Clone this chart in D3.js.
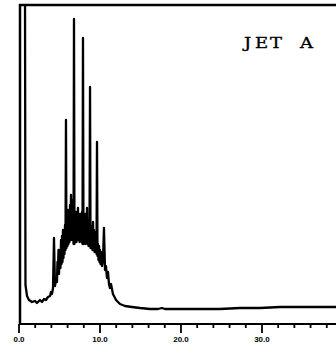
<!DOCTYPE html>
<html>
<head>
<meta charset="utf-8">
<script src="https://cdn.jsdelivr.net/npm/d3@7"></script>
<style>
  body { margin: 0; background: #fff; }
</style>
</head>
<body>
<div></div>
<script>
// retention time (min) and detector response
const times = [0.74, 0.80, 0.99, 1.23, 1.60, 1.98, 2.22, 2.59, 2.84, 3.09, 3.33, 3.58, 3.83, 3.95, 4.07, 4.20,
    4.32, 4.44, 4.57,
    4.69, 4.75, 4.81, 4.88, 4.94, 5.00, 5.06, 5.12, 5.19, 5.25, 5.31, 5.37, 5.43, 5.49, 5.56, 5.62,
    5.68, 5.74, 5.80, 5.86, 5.93, 5.99, 6.05, 6.11, 6.17, 6.23, 6.30, 6.36, 6.42, 6.48, 6.54, 6.60,
    6.67, 6.73, 6.79, 6.85, 6.91, 6.98, 7.04, 7.10, 7.16, 7.22, 7.28, 7.35, 7.41, 7.47, 7.53, 7.59,
    7.65, 7.72, 7.78, 7.84, 7.90, 7.96, 8.02, 8.09, 8.15, 8.21, 8.27, 8.33, 8.40, 8.46, 8.52, 8.58,
    8.64, 8.70, 8.77, 8.83, 8.89, 8.95, 9.01, 9.07, 9.14, 9.20, 9.26, 9.32, 9.38, 9.44, 9.51, 9.57,
    9.63, 9.69, 9.75, 9.81, 9.88, 9.94, 10.00, 10.06, 10.12,
    10.25, 10.37, 10.49, 10.62, 10.74, 10.86, 10.99, 11.11, 11.23, 11.36, 11.60, 11.98, 12.47, 13.09,
    13.95, 14.94, 16.17, 17.16, 17.65, 18.02, 19.88, 22.35, 24.81, 27.28, 29.75, 32.22, 34.69, 37.16, 39.14];
const response = [334, 39, 28, 24, 22, 23, 21, 24, 22, 25, 24, 27, 28, 32, 30, 36,
    86, 38, 44,
    42, 62, 56, 74, 50, 68, 74, 56, 84, 60, 88, 62, 94, 66, 89, 70,
    99, 74, 204, 76, 102, 78, 114, 80, 106, 82, 119, 88, 129, 84, 109, 86,
    124, 80, 305, 80, 104, 84, 112, 82, 108, 86, 116, 84, 106, 82, 110, 84,
    104, 82, 112, 80, 286, 80, 102, 82, 110, 80, 102, 84, 116, 80, 104, 78,
    100, 78, 237, 76, 98, 78, 92, 74, 102, 76, 94, 72, 88, 74, 92, 70,
    182, 68, 80, 64, 78, 62, 74, 60, 72,
    58, 64, 96, 54, 58, 46, 52, 40, 36, 40, 30, 24, 20, 18,
    17, 16, 15, 15, 16, 15, 15, 15, 15, 16, 16, 17, 17, 17, 17];

const tickMinor = [0, 2, 4, 6, 8, 10, 12, 14, 16, 18, 20, 22, 24, 26, 28, 30, 32, 34, 36, 38];
const tickMajor = [0, 10, 20, 30];
const tickLabels = ["0.0", "10.0", "20.0", "30.0"];
const title = "JET A";

const svg = d3.select("div")
    .append("svg")
    .attr("width", 336)
    .attr("height", 360);

const x = d3.scaleLinear().domain([0, 39.14]).range([19, 336]);
const y = d3.scaleLinear().domain([0, 320]).range([324, 4]);

svg.append("clipPath").attr("id", "frame")
    .append("rect")
    .attr("x", 20).attr("y", 5)
    .attr("width", 320).attr("height", 320);

const points = times.map((t, i) => [t, response[i]]);

svg.append("path")
    .datum(points)
    .attr("clip-path", "url(#frame)")
    .attr("fill", "none")
    .attr("stroke", "#000")
    .attr("stroke-width", 2.3)
    .attr("stroke-linejoin", "round")
    .attr("d", d3.line().x(d => x(d[0])).y(d => y(d[1])));

// frame: left and top border
svg.append("line")
    .attr("x1", 20).attr("x2", 20)
    .attr("y1", 4).attr("y2", 325)
    .attr("stroke", "#000").attr("stroke-width", 2.5);
svg.append("line")
    .attr("x1", 19).attr("x2", 336)
    .attr("y1", 5).attr("y2", 5)
    .attr("stroke", "#000").attr("stroke-width", 2.5);

// time axis
const axis = svg.append("g").attr("transform", "translate(0,324)");
axis.append("line")
    .attr("x1", 19).attr("x2", 336)
    .attr("stroke", "#000").attr("stroke-width", 2);
axis.selectAll("line.minor")
    .data(tickMinor)
    .enter().append("line")
    .attr("class", "minor")
    .attr("x1", d => x(d)).attr("x2", d => x(d))
    .attr("y1", 0).attr("y2", d => tickMajor.includes(d) ? 9 : 4)
    .attr("stroke", "#000").attr("stroke-width", 1.8);
axis.selectAll("text")
    .data(tickMajor)
    .enter().append("text")
    .attr("x", d => x(d))
    .attr("y", 18)
    .attr("text-anchor", "middle")
    .attr("font-family", "Liberation Sans")
    .attr("font-size", 8)
    .attr("font-weight", "bold")
    .text((d, i) => tickLabels[i]);

// typewriter-style label, one x per character
svg.append("text")
    .attr("transform", "translate(244,48) scale(1.2,1)")
    .attr("x", "0 9.2 21.7 35 46.7")
    .attr("y", 0)
    .attr("font-family", "DejaVu Serif")
    .attr("font-size", 15)
    .attr("stroke", "#000")
    .attr("stroke-width", 0.35)
    .text(title);
</script>
</body>
</html>
